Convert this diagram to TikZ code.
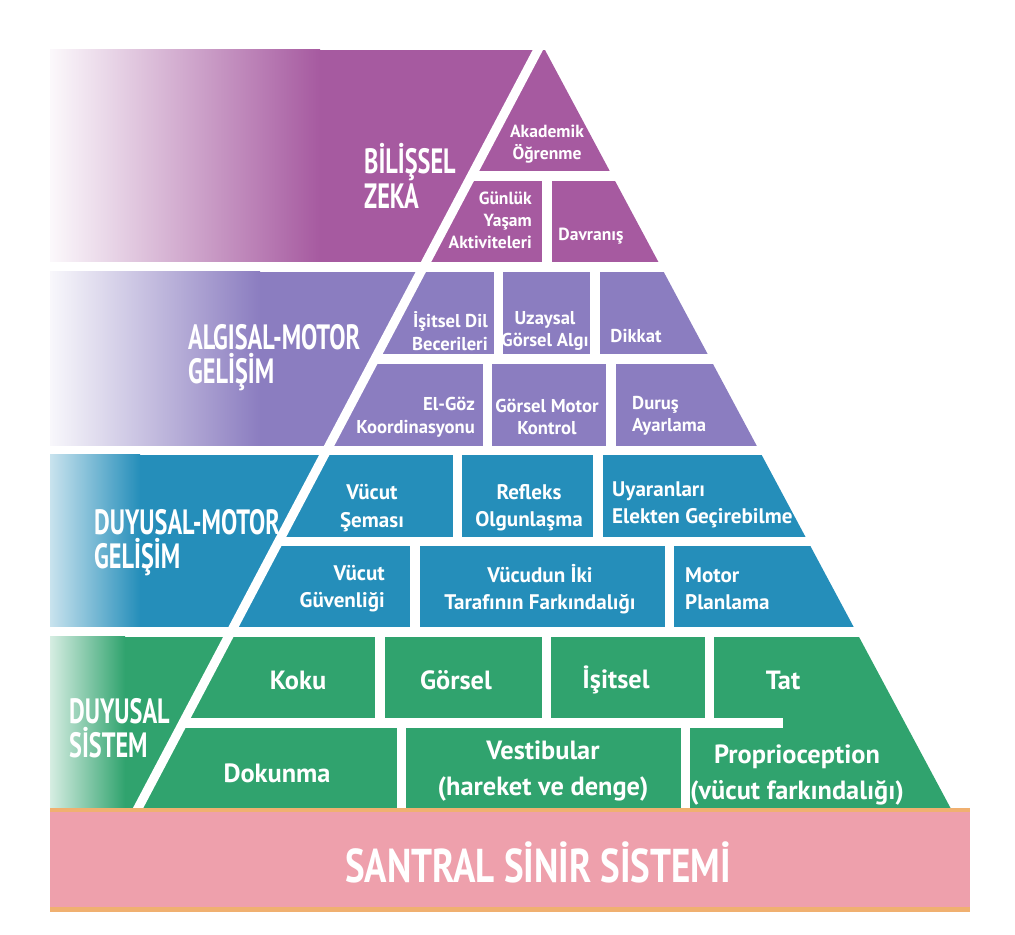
\documentclass[tikz,border=0pt]{standalone}
\usepackage{fontspec}
\setmainfont{PT Sans}
\newfontfamily\hdfont{PT Sans}[FakeStretch=0.69]
\newfontfamily\ssfont{PT Sans}[FakeStretch=0.78]
\usetikzlibrary{calc}

\definecolor{zeka}{RGB}{166,90,160}
\definecolor{algi}{RGB}{139,125,192}
\definecolor{duymot}{RGB}{37,142,186}
\definecolor{duysis}{RGB}{48,163,110}
\definecolor{santral}{RGB}{238,160,172}
\definecolor{santralkenar}{RGB}{240,176,112}

\begin{document}
\begin{tikzpicture}[%
    x=0.02cm, y=-0.02cm,
    gap/.style={white, line width=5.2pt},
    hdr/.style={text=white, anchor=west, align=left,
      font=\hdfont\bfseries\fontsize{20}{19.5}\selectfont},
    t1/.style={text=white, align=center, font=\bfseries\fontsize{10}{12.5}\selectfont},
    t2/.style={text=white, align=center, font=\bfseries\fontsize{10.6}{12.8}\selectfont},
    t3/.style={text=white, align=center, font=\bfseries\fontsize{12}{15.5}\selectfont},
    t4/.style={text=white, align=center, font=\bfseries\fontsize{15}{20.5}\selectfont},
  ]
    \useasboundingbox (0,0) rectangle (1015,935);

    \begin{scope}
      \clip (0,40) -- (539.65,40) -- (962.3,830) -- (0,830) -- cycle;
      \fill[zeka] (50,50) rectangle (1000,262);
      \fill[algi] (50,272) rectangle (1000,446);
      \fill[duymot] (50,455) rectangle (1000,627);
      \fill[duysis] (50,637) rectangle (1000,808);
      \shade[left color=zeka!4, right color=zeka] (50,50) rectangle (320,262);
      \shade[left color=algi!6, right color=algi] (50,272) rectangle (260,446);
      \shade[left color=duymot!25, right color=duymot] (50,455) rectangle (140,627);
      \shade[left color=duysis!20, right color=duysis] (50,637) rectangle (125,808);
    \end{scope}

    \coordinate (apx) at (541,44);
    \coordinate (bas) at (136,812);
    \draw[gap] (apx) -- (bas);
    \foreach \r in {176,359,541.5,723}
      \draw[gap] ($(apx)!{(\r-44)/768}!(bas)$) -- +(600,0);
    \foreach \x/\ya/\yb in {547/176/262, 498.5/272/359, 595/272/359,
        487.5/359/446, 611/359/446, 457.5/455/541.5, 598/455/541.5,
        415/541.5/627, 669.5/541.5/627, 380/637/723, 546.5/637/723,
        709.5/637/723, 401.5/723/808, 685.5/723/808}
      \draw[gap] (\x,\ya) -- (\x,\yb);

    \fill[santralkenar] (50,808) rectangle (970,912);
    \fill[santral] (50,812) rectangle (970,907);

    \node[hdr] (zeka) at (358,176) {BİLİŞSEL\\ZEKA};
    \node[t1] (akademik) at (547,144) {Akademik\\Öğrenme};
    \node[t1, anchor=east, align=right] (gunluk) at (538,220) {Günlük\\Yaşam\\Aktiviteleri};
    \node[t1] (davranis) at (591,236) {Davranış};

    \node[hdr] (algisal) at (182,358) {ALGISAL-MOTOR\\GELİŞİM};
    \node[t2, anchor=east, align=right] (isitseldil) at (494,331) {İşitsel Dil\\Becerileri};
    \node[t2] (uzaysal) at (545,331) {Uzaysal\\Görsel Algı};
    \node[t2] (dikkat) at (636,336) {Dikkat};
    \node[t2, anchor=east, align=right] (elgoz) at (481,417) {El-Göz\\Koordinasyonu};
    \node[t2] (gorselmotor) at (547,417) {Görsel Motor\\Kontrol};
    \node[t2, anchor=west, align=left] (durus) at (626,416) {Duruş\\Ayarlama};

    \node[hdr] (duyusalmotor) at (88,543) {DUYUSAL-MOTOR\\GELİŞİM};
    \node[t3] (vucutsema) at (372,508) {Vücut\\Şeması};
    \node[t3] (refleks) at (529,508) {Refleks\\Olgunlaşma};
    \node[t3, anchor=west, align=left] (uyaran) at (606,505) {Uyaranları\\Elekten Geçirebilme};
    \node[t3, anchor=east, align=right] (vucutguv) at (391,589) {Vücut\\Güvenliği};
    \node[t3] (ikitaraf) at (540,589) {Vücudun İki\\Tarafının Farkındalığı};
    \node[t3, anchor=west, align=left] (motorplan) at (679,589) {Motor\\Planlama};

    \node[hdr] (duyusalsis) at (63,728) {DUYUSAL\\SİSTEM};
    \node[t4] (koku) at (298,680) {Koku};
    \node[t4] (gorsel) at (456,680) {Görsel};
    \node[t4] (isitsel) at (616,680) {İşitsel};
    \node[t4] (tat) at (783,680) {Tat};
    \node[t4] (dokunma) at (277,773) {Dokunma};
    \node[t4] (vestibular) at (543,771) {Vestibular\\(hareket ve denge)};
    \node[t4] (proprio) at (797,775) {Proprioception\\(vücut farkındalığı)};

    \node[text=white, font=\ssfont\bfseries\fontsize{27}{30}\selectfont] (ssistem) at (538,862) {SANTRAL SİNİR SİSTEMİ};
  \end{tikzpicture}
\end{document}
